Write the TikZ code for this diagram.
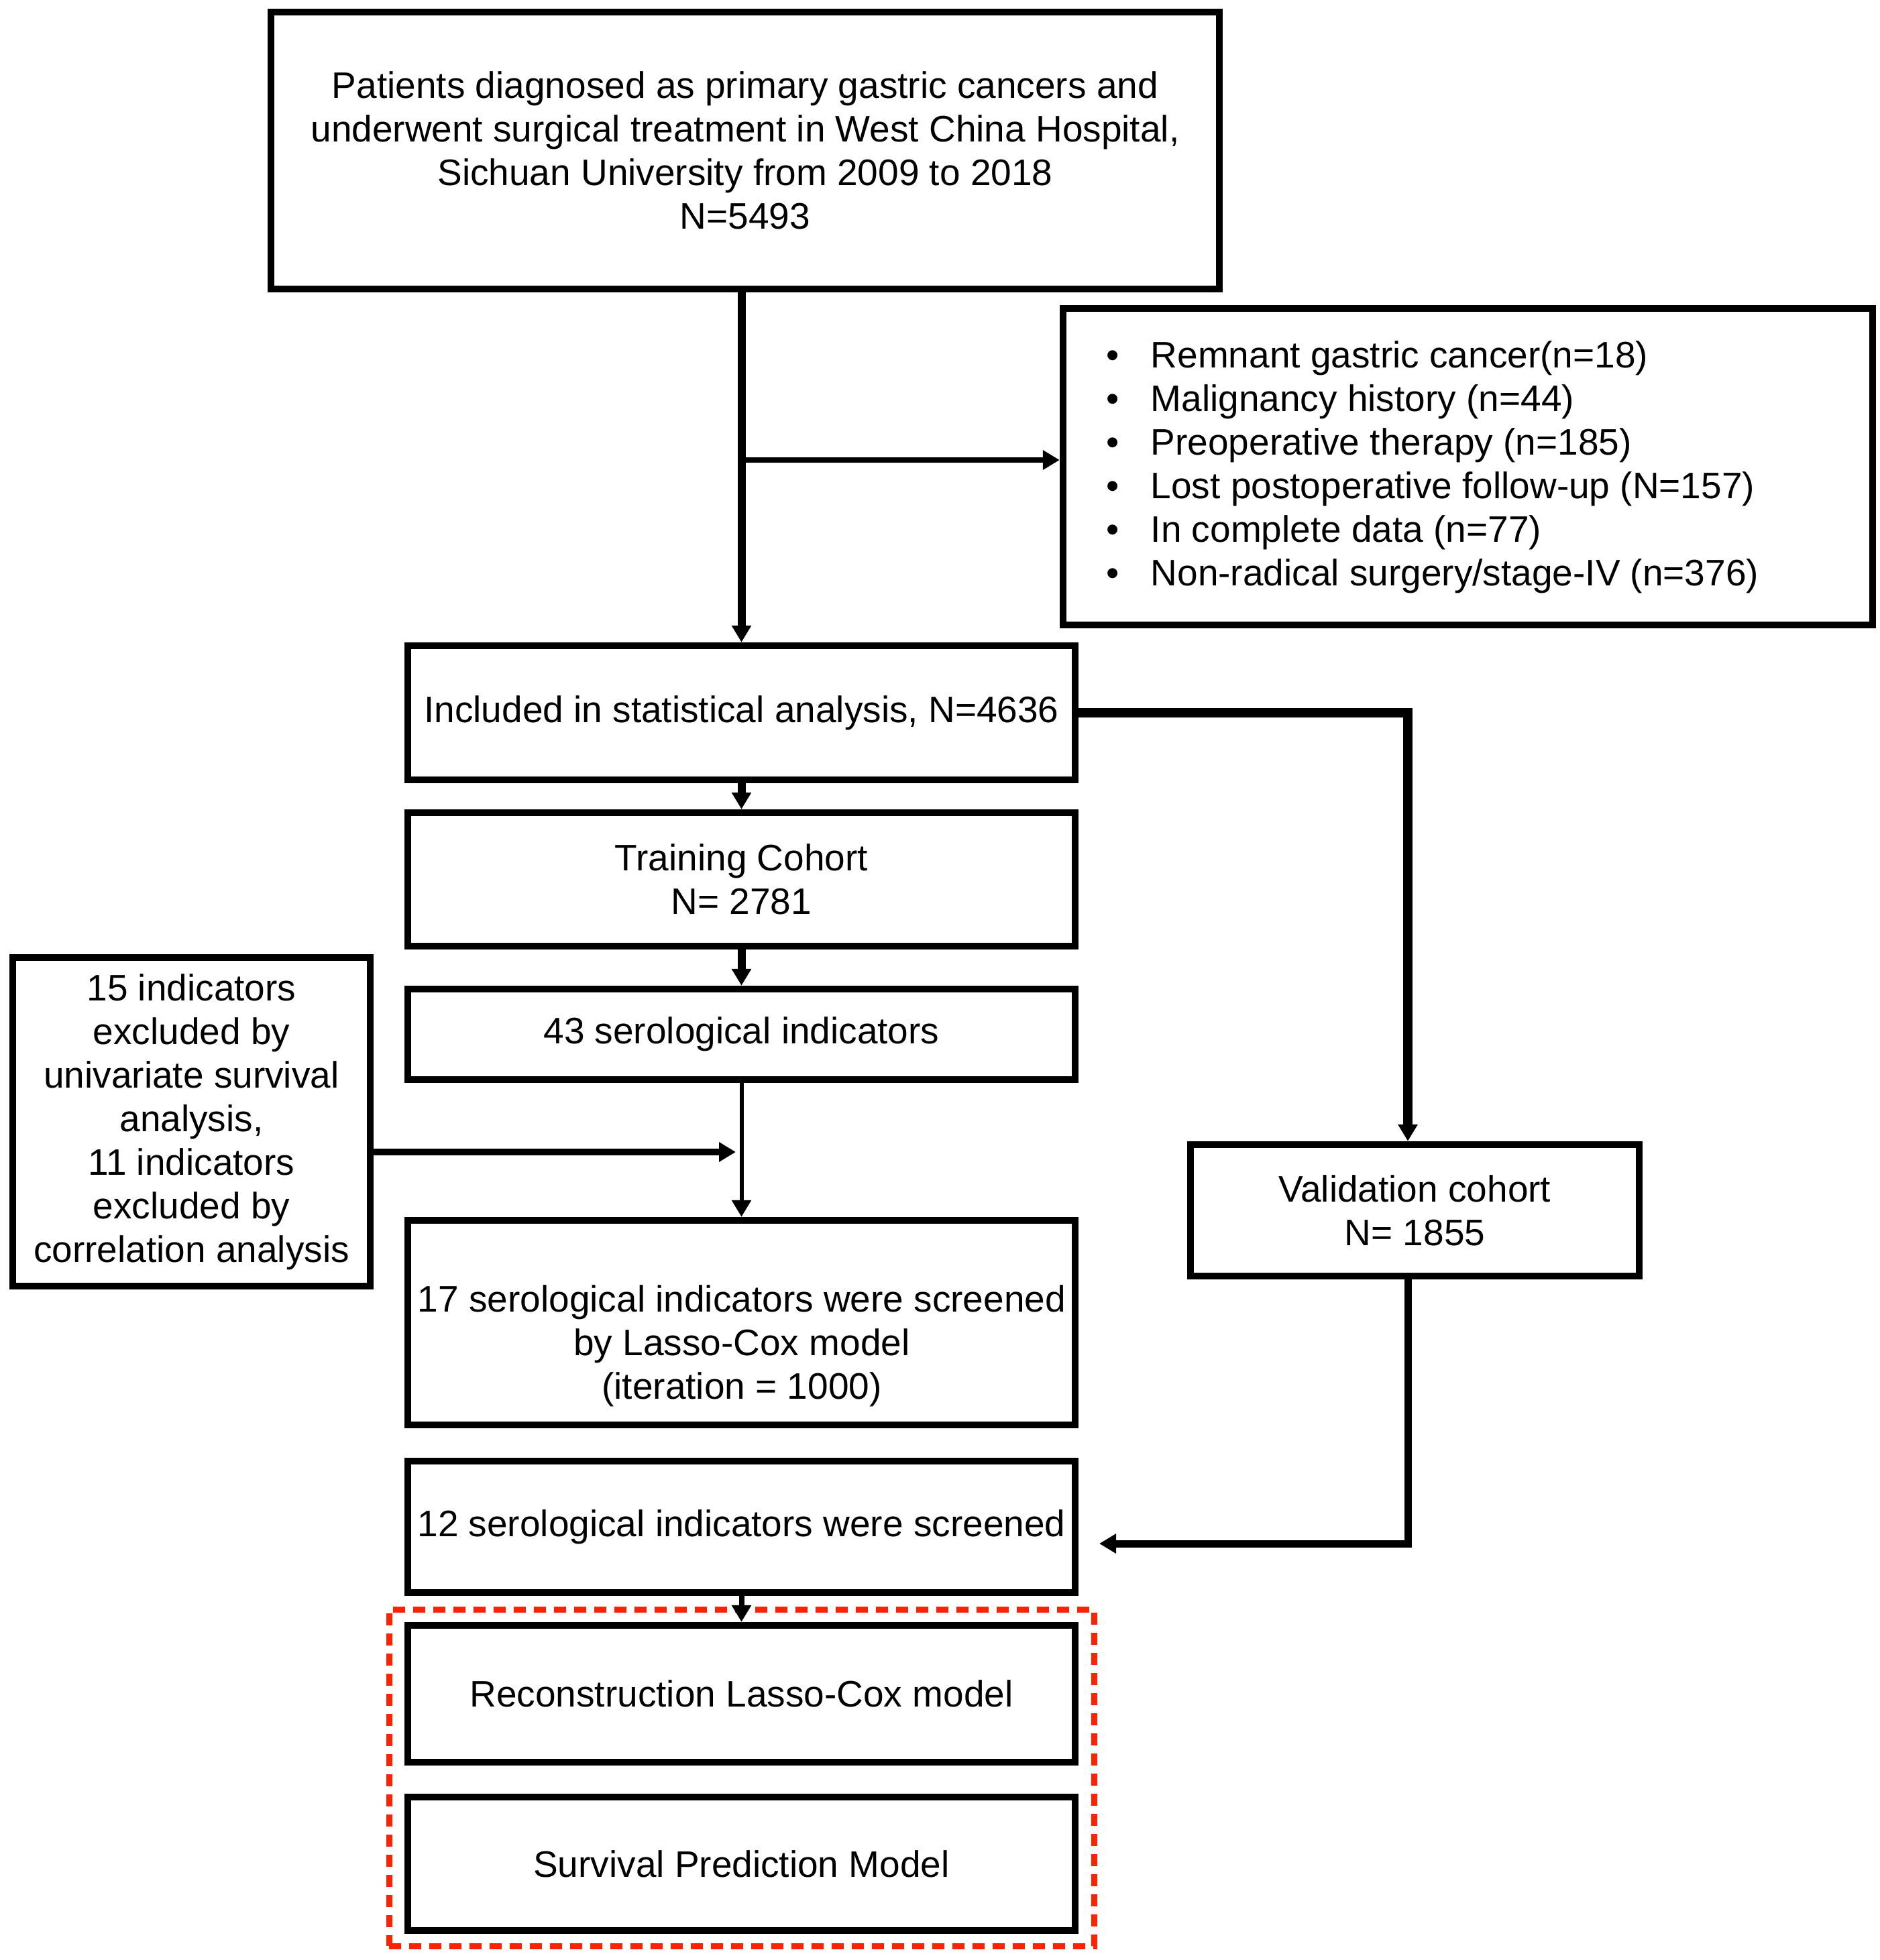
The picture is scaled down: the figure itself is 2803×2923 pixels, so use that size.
\documentclass[tikz,border=0pt]{standalone}
\usepackage{fontspec}
\setmainfont{Liberation Sans}
\usetikzlibrary{arrows.meta}
\definecolor{redbox}{RGB}{255,34,0}
\begin{document}
\begin{tikzpicture}[x=0.25pt,y=-0.25pt,
  every node/.style={font=\fontsize{13.75pt}{16.25pt}\selectfont, text=black},
  box/.style={draw=black, line width=2.6pt, inner sep=0pt, align=center},
  colbox/.style={box, minimum width=248.75pt},
  conn/.style={line width=3pt},
  tip/.style={-{Triangle[width=7pt,length=6.25pt]}},
]
\useasboundingbox (0,0) rectangle (2803,2923);
\node[box, minimum width=353.5pt, minimum height=103.25pt] (top) at (1111,224.5) {Patients diagnosed as primary gastric cancers and\\ underwent surgical treatment in West China Hospital,\\ Sichuan University from 2009 to 2018\\ N=5493};
\node[box, minimum width=301.75pt, minimum height=118pt] (excl) at (2188.5,696) {};
\node[anchor=west, align=left, inner sep=0pt] (excltext) at (1649,697) {\makebox[16.5pt][l]{•}Remnant gastric cancer(n=18)\\
\makebox[16.5pt][l]{•}Malignancy history (n=44)\\
\makebox[16.5pt][l]{•}Preoperative therapy (n=185)\\
\makebox[16.5pt][l]{•}Lost postoperative follow-up (N=157)\\
\makebox[16.5pt][l]{•}In complete data (n=77)\\
\makebox[16.5pt][l]{•}Non-radical surgery/stage-IV (n=376)};
\node[colbox, minimum height=50pt] (incl) at (1105.5,1063) {Included in statistical analysis, N=4636};
\node[colbox, minimum height=49.75pt] (train) at (1105.5,1311.5) {Training Cohort\\ N= 2781};
\node[colbox, minimum height=33.75pt] (b43) at (1105.5,1542.5) {43 serological indicators};
\node[box, minimum width=133.25pt, minimum height=122.5pt] (left) at (285.5,1673) {15 indicators\\ excluded by\\ univariate survival\\ analysis,\\ 11 indicators\\ excluded by\\ correlation analysis};
\node[colbox, minimum height=76.25pt] (b17) at (1105.5,1972.5) {};
\node[align=center, inner sep=0pt] (b17text) at (1106,2007) {17 serological indicators were screened\\ by Lasso-Cox model\\ (iteration = 1000)};
\node[box, minimum width=167.25pt, minimum height=49pt] (valid) at (2109.5,1805) {Validation cohort\\ N= 1855};
\node[colbox, minimum height=49pt] (b12) at (1105.5,2277) {12 serological indicators were screened};
\node[colbox, minimum height=51pt] (recon) at (1105.5,2526) {Reconstruction Lasso-Cox model};
\node[colbox, minimum height=49.75pt] (surv) at (1105.5,2779.5) {Survival Prediction Model};
\node[draw=redbox, line width=2.25pt, dash pattern=on 4.5pt off 3pt, inner sep=0pt, minimum width=262.75pt, minimum height=125.5pt] (redframe) at (1105.5,2651) {};
% connectors
\draw[conn, tip] (incl.north |- top.south) -- (incl.north);
\coordinate (br) at (1106,686);
\draw[line width=2pt, tip] (br) -- (br -| excl.west);
\draw[conn, tip] (incl.south) -- (train.north);
\draw[conn, tip] (train.south) -- (b43.north);
\draw[line width=1.5pt, tip] (b43.south) -- (b17.north);
\coordinate (jn) at (1097,1718);
\draw[line width=2.5pt, tip] (left.east |- jn) -- (jn);
\coordinate (vx) at (2099,1000);
\draw[line width=3.5pt, tip] (incl.east) -| (vx |- valid.north);
\coordinate (t12) at (1639,2302);
\draw[line width=2.75pt, tip] (vx |- valid.south) |- (t12);
\draw[line width=2pt, tip] (b12.south) -- (recon.north);
\end{tikzpicture}
\end{document}
